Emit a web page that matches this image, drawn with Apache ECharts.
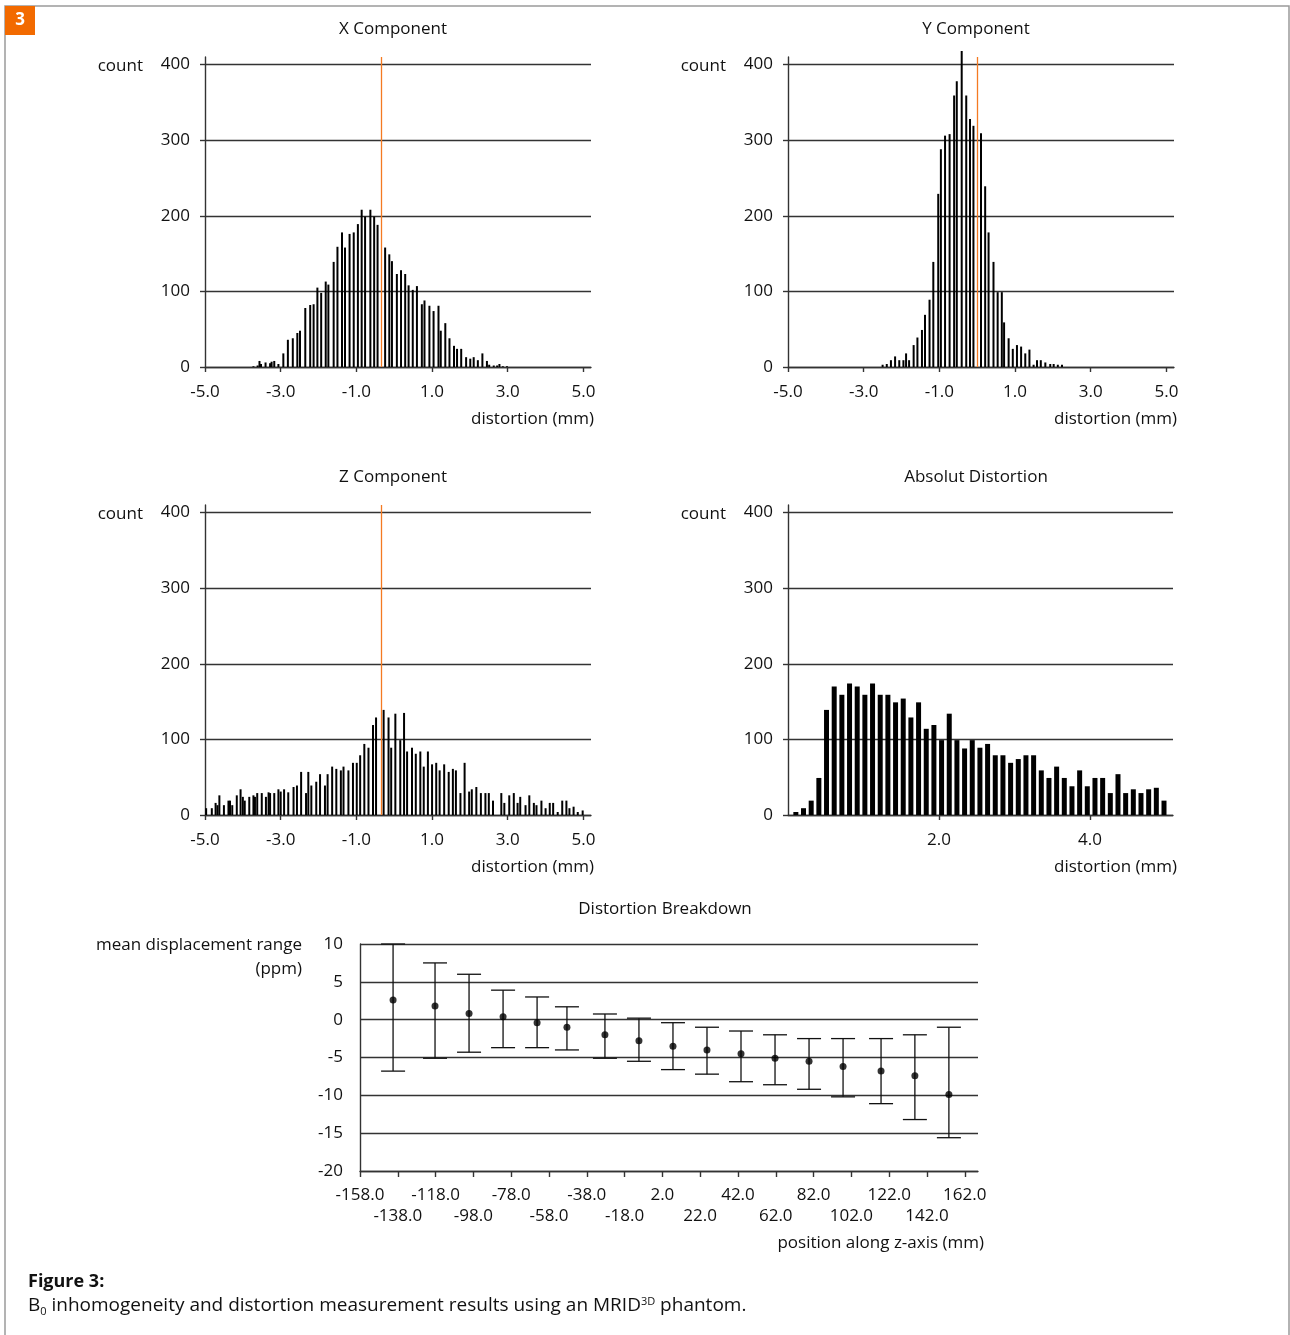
<!DOCTYPE html>
<html lang="en">
<head>
  <meta charset="UTF-8">
  <title>Figure 3</title>
  <style>
    body { margin: 0; background: #fff; }
    #main { width: 1290px; height: 1335px; }
  </style>
</head>
<body>
<div id="main"></div>
<script src="https://cdn.jsdelivr.net/npm/echarts@6/dist/echarts.min.js"></script>
<script type="text/javascript">
  // X component histogram (bin centre in mm, count)
  const xCompX = [-3.72, -3.61, -3.56, -3.52, -3.40, -3.28, -3.24, -3.17, -3.06, -2.93, -2.81, -2.68, -2.56, -2.49, -2.35, -2.22, -2.13, -2.03, -1.93, -1.81, -1.74, -1.60, -1.50, -1.38, -1.30, -1.18, -1.07, -0.96, -0.86, -0.77, -0.63, -0.53, -0.44, -0.24, -0.13, -0.06, 0.07, 0.18, 0.29, 0.38, 0.49, 0.60, 0.73, 0.80, 0.93, 1.04, 1.17, 1.23, 1.35, 1.46, 1.58, 1.66, 1.77, 1.90, 2.01, 2.10, 2.21, 2.33, 2.45, 2.51, 2.63, 2.72, 2.78, 2.87, 2.98]
  const xCompCount = [1, 2, 8, 4, 6, 5, 7, 8, 4, 18, 36, 38, 45, 48, 78, 82, 83, 105, 98, 113, 109, 139, 159, 178, 158, 176, 178, 189, 208, 199, 208, 199, 188, 158, 149, 140, 123, 128, 123, 108, 102, 107, 83, 88, 81, 74, 81, 48, 58, 38, 28, 24, 24, 13, 11, 13, 9, 18, 8, 3, 2, 2, 4, 1, 1]

  // Y component histogram
  const yCompX = [-2.50, -2.39, -2.28, -2.17, -2.06, -1.95, -1.88, -1.80, -1.68, -1.58, -1.46, -1.38, -1.26, -1.16, -1.03, -0.96, -0.85, -0.73, -0.61, -0.54, -0.41, -0.29, -0.19, -0.10, 0.10, 0.21, 0.30, 0.43, 0.54, 0.65, 0.71, 0.83, 0.94, 1.05, 1.16, 1.27, 1.38, 1.49, 1.58, 1.68, 1.80, 1.93, 2.02, 2.13, 2.24]
  const yCompCount = [3, 4, 9, 14, 9, 9, 18, 9, 29, 39, 49, 69, 89, 139, 229, 288, 306, 308, 359, 378, 418, 359, 328, 319, 309, 239, 178, 139, 99, 99, 59, 38, 24, 29, 27, 18, 23, 3, 9, 9, 6, 4, 4, 3, 3]

  // Z component histogram
  const zCompX = [-4.97, -4.82, -4.72, -4.67, -4.62, -4.50, -4.38, -4.34, -4.28, -4.16, -4.06, -4.00, -3.95, -3.83, -3.72, -3.68, -3.62, -3.50, -3.39, -3.32, -3.28, -3.17, -3.06, -3.00, -2.91, -2.80, -2.66, -2.57, -2.46, -2.33, -2.27, -2.19, -2.06, -1.96, -1.83, -1.76, -1.64, -1.53, -1.41, -1.34, -1.21, -1.09, -0.99, -0.90, -0.79, -0.68, -0.56, -0.48, -0.28, -0.15, -0.08, 0.03,
    0.16, 0.26, 0.34, 0.47, 0.57, 0.69, 0.78, 0.89, 1.00, 1.11, 1.20, 1.32, 1.44, 1.55, 1.63, 1.75, 1.86, 1.98, 2.05, 2.17, 2.29, 2.41, 2.50, 2.61, 2.83, 2.91, 3.04, 3.16, 3.26, 3.33, 3.47, 3.57, 3.69, 3.76, 3.89, 4.00, 4.11, 4.20, 4.32, 4.44, 4.55, 4.63, 4.74, 4.85, 4.98]
  const zCompCount = [9, 9, 16, 13, 26, 13, 19, 19, 13, 26, 34, 24, 19, 24, 26, 24, 29, 29, 24, 30, 29, 29, 34, 31, 34, 30, 37, 39, 57, 29, 57, 39, 44, 54, 39, 54, 64, 61, 59, 64, 59, 69, 69, 79, 94, 89, 119, 129, 139, 129, 89, 134,
    99, 135, 84, 89, 81, 84, 64, 84, 67, 69, 59, 67, 57, 61, 59, 29, 69, 31, 34, 37, 29, 29, 29, 19, 29, 16, 26, 29, 16, 24, 13, 26, 16, 13, 19, 9, 16, 16, 4, 19, 19, 9, 11, 4, 6]

  // absolute distortion histogram: first bin centre, bin width, counts
  const absBinStart = 0.104
  const absBinWidth = 0.1016
  const absCount = [4, 9, 19, 49, 139, 170, 159, 174, 170, 159, 174, 159, 159, 149, 154, 129, 149, 114, 119, 99, 134, 99, 88, 99, 89,
    94, 79, 79, 69, 74, 79, 79, 59, 49, 64, 49, 38, 59, 38, 49, 49, 29, 54, 29, 34, 29, 34, 36, 19]

  // mean of each component (orange marker)
  const xMean = -0.34
  const yMean = 0.0
  const zMean = -0.34

  // distortion breakdown along z
  const bdPos = [-140.5, -118.3, -100.3, -82.3, -64.3, -48.5, -28.4, -10.4, 7.6, 25.6, 43.6, 61.6, 79.6, 97.6, 117.7, 135.6, 153.6]
  const bdMean = [2.6, 1.8, 0.8, 0.4, -0.4, -1.0, -2.0, -2.8, -3.5, -4.0, -4.5, -5.1, -5.5, -6.2, -6.8, -7.4, -9.9]
  const bdHigh = [10.0, 7.5, 6.0, 3.9, 3.0, 1.7, 0.75, 0.2, -0.4, -1.0, -1.5, -2.0, -2.5, -2.5, -2.5, -2.0, -1.0]
  const bdLow = [-6.8, -5.1, -4.3, -3.7, -3.7, -4.0, -5.1, -5.5, -6.6, -7.2, -8.2, -8.6, -9.2, -10.2, -11.1, -13.2, -15.6]

  // tick labels
  const compTicks = [-5, -3, -1, 1, 3, 5]
  const absTicks = [2, 4]
  const countTicks = [0, 100, 200, 300, 400]
  const bdTicks = [-158, -138, -118, -98, -78, -58, -38, -18, 2, 22, 42, 62, 82, 102, 122, 142, 162]
  const bdTicksUpper = [-158, -118, -78, -38, 2, 42, 82, 122, 162]
  const bdTicksLower = [-138, -98, -58, -18, 22, 62, 102, 142]

  const FONT = '"Open Sans", "Noto Sans", sans-serif'
  const INK = '#111'
  const LINE = '#333'
  const ORANGE = '#f47a22'

  const Chart = echarts.init(document.getElementById('main'))

  const pairs = (xs, ys) => xs.map((x, i) => [x, ys[i]])

  const lineStyle = {color: LINE, width: 1.4}
  const labelStyle = {color: INK, fontSize: 17, fontFamily: FONT}

  function histX(grid, min, max, ticks) {
    return {
      type: 'value', gridIndex: grid, min: min, max: max,
      axisLine: {show: true, onZero: false, lineStyle: lineStyle},
      axisTick: {show: true, customValues: ticks, length: 5, lineStyle: lineStyle},
      axisLabel: Object.assign({customValues: ticks, margin: 17, showMinLabel: true, showMaxLabel: true, formatter: v => v.toFixed(1)}, labelStyle),
      splitLine: {show: false}
    }
  }

  function histY(grid) {
    return {
      type: 'value', gridIndex: grid, min: 0, max: 410,
      axisLine: {show: true, onZero: false, lineStyle: lineStyle},
      axisTick: {show: true, customValues: countTicks, length: 5, lineStyle: lineStyle},
      axisLabel: Object.assign({customValues: countTicks, margin: 15}, labelStyle),
      splitLine: {show: true, lineStyle: lineStyle}
    }
  }

  // breakdown x axis: two label rows share one scale
  function bdX(labels, margin, withLine) {
    return {
      type: 'value', gridIndex: 4, min: -158, max: 169, position: 'bottom',
      axisLine: {show: withLine, onZero: false, lineStyle: lineStyle},
      axisTick: {show: withLine, customValues: bdTicks, length: 6, lineStyle: lineStyle},
      axisLabel: Object.assign({
        customValues: labels, margin: margin,
        showMinLabel: true, showMaxLabel: true,
        formatter: v => v.toFixed(1)
      }, labelStyle),
      splitLine: {show: false}
    }
  }

  function histSeries(grid, data, width, mean) {
    const s = {
      type: 'bar', xAxisIndex: grid, yAxisIndex: grid,
      data: data, barWidth: width,
      itemStyle: {color: '#000'},
      clip: false
    }
    if (mean !== null) {
      s.markLine = {
        silent: true, symbol: 'none', label: {show: false},
        lineStyle: {color: ORANGE, width: 1.3, type: 'solid', opacity: 1},
        emphasis: {disabled: true},
        z: 10,
        data: [{xAxis: mean}]
      }
    }
    return s
  }

  function txt(x, y, text, align, extra) {
    return {
      type: 'text', x: x, y: y,
      style: Object.assign({
        text: text, fill: INK, font: '17px ' + FONT,
        textAlign: align, textVerticalAlign: 'middle',
        align: align, verticalAlign: 'middle'
      }, extra || {})
    }
  }

  const option = {
    animation: false,
    backgroundColor: '#fff',
    grid: [
      {left: 205, top: 57, width: 386, height: 310},
      {left: 788, top: 57, width: 386, height: 310},
      {left: 205, top: 505, width: 386, height: 310},
      {left: 788, top: 505, width: 385, height: 310},
      {left: 360, top: 944, width: 618, height: 227}
    ],
    xAxis: [
      histX(0, -5, 5.2, compTicks),
      histX(1, -5, 5.2, compTicks),
      histX(2, -5, 5.2, compTicks),
      histX(3, 0, 5.1, absTicks),
      bdX(bdTicksUpper, 16, true),
      bdX(bdTicksLower, 37, false)
    ],
    yAxis: [
      histY(0), histY(1), histY(2), histY(3),
      {
        type: 'value', gridIndex: 4, min: -20, max: 10, interval: 5,
        axisLine: {show: true, onZero: false, lineStyle: lineStyle},
        axisTick: {show: false},
        axisLabel: Object.assign({margin: 17}, labelStyle),
        splitLine: {show: true, lineStyle: lineStyle}
      }
    ],
    series: [
      histSeries(0, pairs(xCompX, xCompCount), 2, xMean),
      histSeries(1, pairs(yCompX, yCompCount), 2, yMean),
      histSeries(2, pairs(zCompX, zCompCount), 2, zMean),
      histSeries(3, absCount.map((c, i) => [absBinStart + i * absBinWidth, c]), 5, null),
      {
        type: 'custom', xAxisIndex: 4, yAxisIndex: 4,
        data: bdPos.map((x, i) => [x, bdLow[i], bdHigh[i]]),
        encode: {x: 0, y: [1, 2]},
        renderItem: function (params, api) {
          const top = api.coord([api.value(0), api.value(2)])
          const bot = api.coord([api.value(0), api.value(1)])
          const half = 12
          const st = {stroke: INK, lineWidth: 1.3}
          return {
            type: 'group',
            children: [
              {type: 'line', shape: {x1: top[0], y1: top[1], x2: bot[0], y2: bot[1]}, style: st},
              {type: 'line', shape: {x1: top[0] - half, y1: top[1], x2: top[0] + half, y2: top[1]}, style: st},
              {type: 'line', shape: {x1: bot[0] - half, y1: bot[1], x2: bot[0] + half, y2: bot[1]}, style: st}
            ]
          }
        },
        z: 3
      },
      {
        type: 'scatter', xAxisIndex: 4, yAxisIndex: 4,
        data: pairs(bdPos, bdMean),
        symbol: 'circle', symbolSize: 7,
        itemStyle: {color: '#000'},
        z: 4
      }
    ],
    graphic: [
      // frame and figure number
      {type: 'rect', shape: {x: 5, y: 6, width: 1284, height: 1360}, style: {fill: 'none', stroke: '#9a9a9a', lineWidth: 1.5}},
      {type: 'rect', shape: {x: 5, y: 6, width: 30, height: 29}, style: {fill: '#f26a00'}},
      txt(20, 20.5, '3', 'center', {fill: '#fff', font: 'bold 17px ' + FONT}),

      // panel titles
      txt(393, 29, 'X Component', 'center'),
      txt(976, 29, 'Y Component', 'center'),
      txt(393, 477, 'Z Component', 'center'),
      txt(976, 477, 'Absolut Distortion', 'center'),
      txt(665, 909, 'Distortion Breakdown', 'center'),

      // axis names
      txt(143, 66, 'count', 'right'),
      txt(726, 66, 'count', 'right'),
      txt(143, 514, 'count', 'right'),
      txt(726, 514, 'count', 'right'),
      txt(594, 419, 'distortion (mm)', 'right'),
      txt(1177, 419, 'distortion (mm)', 'right'),
      txt(594, 867, 'distortion (mm)', 'right'),
      txt(1177, 867, 'distortion (mm)', 'right'),
      txt(302, 945, 'mean displacement range', 'right'),
      txt(302, 969, '(ppm)', 'right'),
      txt(984, 1243, 'position along z-axis (mm)', 'right'),

      // caption
      txt(28, 1282, 'Figure 3:', 'left', {font: 'bold 18px ' + FONT}),
      {
        type: 'text', x: 28, y: 1306,
        style: {
          text: 'B{sub|0} inhomogeneity and distortion measurement results using an MRID{sup|3D} phantom.',
          fill: INK, font: '19px ' + FONT,
          textAlign: 'left', textVerticalAlign: 'middle', align: 'left', verticalAlign: 'middle',
          rich: {
            sub: {fontSize: 11, fontFamily: FONT, fill: INK, padding: [11, 0, 0, 0]},
            sup: {fontSize: 11, fontFamily: FONT, fill: INK, padding: [0, 0, 9, 0]}
          }
        }
      }
    ]
  }

  Chart.setOption(option)
</script>
</body>
</html>
